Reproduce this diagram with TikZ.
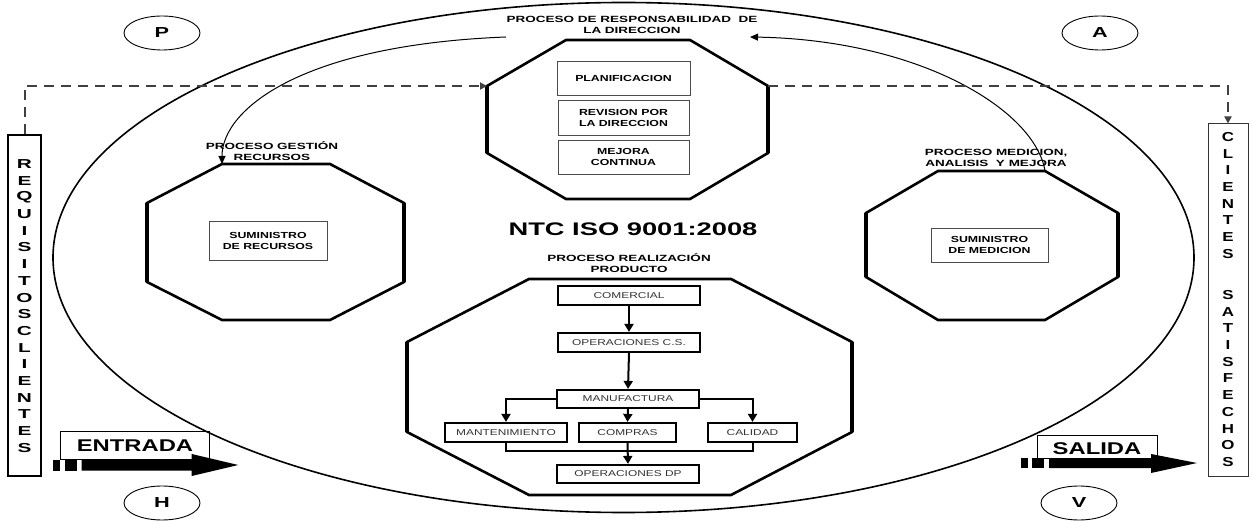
\documentclass[tikz,border=0pt]{standalone}
\usepackage{fontspec}
\setmainfont{Liberation Sans}
\newfontfamily\wideA{Liberation Sans}[FakeStretch=1.5]
\newfontfamily\wideB{Liberation Sans}[FakeStretch=1.4]
\newfontfamily\wideC{Liberation Sans}[FakeStretch=1.3]
\newfontfamily\wideD{Liberation Sans}[FakeStretch=1.6]
\usetikzlibrary{arrows.meta,shapes.geometric}

\tikzset{
  title/.style={font=\wideA\bfseries\fontsize{9}{11}\selectfont, align=center, inner sep=0pt},
  inbox/.style={draw=black!70, line width=0.8pt, font=\wideB\bfseries\fontsize{8.8}{11}\selectfont,
                align=center, inner sep=0pt},
  flow/.style={draw, line width=2.2pt, font=\wideB\fontsize{8.5}{10}\selectfont, text=black!80,
               inner sep=0pt, minimum height=19pt},
  octo/.style={line width=2.6pt, line join=miter},
  octoside/.style={line width=4.6pt},
  conn/.style={line width=2pt, -{Triangle[length=8pt,width=9pt]}},
  dashlink/.style={dash pattern=on 10pt off 7pt, line width=2pt, draw=black!75,
                   -{Triangle[length=7pt,width=7pt]}},
  loopline/.style={line width=1pt, -{Triangle[length=8pt,width=7pt]}},
  phase/.style={draw, ellipse, line width=0.9pt, minimum width=76pt, minimum height=34pt,
                inner sep=0pt, font=\wideA\bfseries\fontsize{14.5}{15}\selectfont},
  vletterL/.style={font=\wideD\bfseries\fontsize{13}{14}\selectfont, inner sep=0pt},
  vletterR/.style={font=\wideC\bfseries\fontsize{13}{14}\selectfont, inner sep=0pt},
  bigword/.style={font=\wideB\bfseries\fontsize{17}{18}\selectfont, inner sep=0pt},
}

\begin{document}
\begin{tikzpicture}[x=1pt, y=-1pt]
\useasboundingbox (0,0) rectangle (1254,521);

% outer process ellipse
\draw[line width=1.6pt] (623.5,257.5) ellipse [x radius=570.5, y radius=255];

% PHVA markers
\node[phase] (p) at (162,33) {P};
\node[phase] (a) at (1100,33) {A};
\node[phase] (h) at (162,503) {H};
\node[phase] (v) at (1079,503) {V};

% side boxes: customer requirements and satisfied customers
\node[draw, line width=1.5pt, minimum width=33pt, minimum height=341pt, inner sep=0pt] (req) at (24.5,305.5) {};
\foreach \l [count=\i from 0] in {R,E,Q,U,I,S,I,T,O,S,C,L,I,E,N,T,E,S}
  \node[vletterL] (reql\i) at (24.5,164+\i*16.7) {\l};

\node[draw=black!80, line width=1pt, minimum width=40pt, minimum height=352pt, inner sep=0pt] (cli) at (1228,300) {};
\foreach \l [count=\i from 0] in {C,L,I,E,N,T,E,S}
  \node[vletterR] (clia\i) at (1228,137+\i*16.7) {\l};
\foreach \l [count=\i from 0] in {S,A,T,I,S,F,E,C,H,O,S}
  \node[vletterR] (clib\i) at (1228,295+\i*16.7) {\l};

% management responsibility octagon
\coordinate (dA) at (566,40);  \coordinate (dB) at (690,40);
\coordinate (dR) at (768,86);  \coordinate (dRb) at (768,153);
\coordinate (dC) at (690,199); \coordinate (dD) at (566,199);
\coordinate (dLb) at (487,153); \coordinate (dL) at (487,86);
\draw[octo] (dA) -- (dB) -- (dR) -- (dRb) -- (dC) -- (dD) -- (dLb) -- (dL) -- cycle;
\draw[octoside] (dR) -- (dRb) (dL) -- (dLb);
\node[title] (tdir) at (632,25) {PROCESO DE RESPONSABILIDAD \ DE\\LA DIRECCION};
\node[inbox, minimum width=133pt, minimum height=34pt] (plan) at (623.5,78) {PLANIFICACION};
\node[inbox, minimum width=131pt, minimum height=35pt] (rev) at (623.5,117.5) {REVISION POR\\LA DIRECCION};
\node[inbox, minimum width=131pt, minimum height=34pt] (mej) at (623.5,157) {MEJORA\\CONTINUA};

% resource management octagon
\coordinate (rTL) at (222,164); \coordinate (rTR) at (330,164);
\coordinate (rR1) at (404,203); \coordinate (rR2) at (404,282);
\coordinate (rBR) at (330,320); \coordinate (rBL) at (222,320);
\coordinate (rL2) at (147,282); \coordinate (rL1) at (147,203);
\draw[octo] (rTL) -- (rTR) -- (rR1) -- (rR2) -- (rBR) -- (rBL) -- (rL2) -- (rL1) -- cycle;
\draw[octoside] (rR1) -- (rR2) (rL1) -- (rL2);
\node[title] (trec) at (272,151.5) {PROCESO GESTIÓN\\RECURSOS};
\node[inbox, minimum width=118pt, minimum height=39pt] (srec) at (268,240.5) {SUMINISTRO\\DE RECURSOS};

% measurement octagon
\coordinate (mTL) at (938,171); \coordinate (mTR) at (1045,171);
\coordinate (mR1) at (1118,213); \coordinate (mR2) at (1118,277);
\coordinate (mBR) at (1045,320); \coordinate (mBL) at (938,320);
\coordinate (mL2) at (866,277); \coordinate (mL1) at (866,213);
\draw[octo] (mTL) -- (mTR) -- (mR1) -- (mR2) -- (mBR) -- (mBL) -- (mL2) -- (mL1) -- cycle;
\draw[octoside] (mR1) -- (mR2) (mL1) -- (mL2);
\node[title] (tmed) at (996,157.5) {PROCESO MEDICION,\\ANALISIS \ Y MEJORA};
\node[inbox, minimum width=117pt, minimum height=34pt] (smed) at (989.5,245) {SUMINISTRO\\DE MEDICION};

% central standard label
\node[font=\wideA\bfseries\fontsize{18.2}{20}\selectfont, inner sep=0pt] (ntc) at (633,229) {NTC ISO 9001:2008};

% product realization octagon
\coordinate (pTL) at (529,279); \coordinate (pTR) at (731,279);
\coordinate (pR1) at (852,342); \coordinate (pR2) at (852,432);
\coordinate (pBR) at (731,495); \coordinate (pBL) at (529,495);
\coordinate (pL2) at (407,432); \coordinate (pL1) at (407,342);
\draw[octo] (pTL) -- (pTR) -- (pR1) -- (pR2) -- (pBR) -- (pBL) -- (pL2) -- (pL1) -- cycle;
\draw[octoside] (pR1) -- (pR2) (pL1) -- (pL2);
\node[title] (tpro) at (629,263.5) {PROCESO REALIZACIÓN\\PRODUCTO};

\node[flow, minimum width=142pt] (com)  at (629,295.5) {COMERCIAL};
\node[flow, minimum width=142pt] (ocs)  at (629,342.5) {OPERACIONES C.S.};
\node[flow, minimum width=142pt, minimum height=18pt] (man) at (628,399) {MANUFACTURA};
\node[flow, minimum width=122pt] (mant) at (506,432.5) {MANTENIMIENTO};
\node[flow, minimum width=97pt]  (comp) at (627.5,432.5) {COMPRAS};
\node[flow, minimum width=89pt]  (cal)  at (752.5,432.5) {CALIDAD};
\node[flow, minimum width=142pt, minimum height=18pt] (opdp) at (628,474) {OPERACIONES DP};
\coordinate (jn) at (628,451);

\draw[conn] (com.south) -- (ocs.north);
\draw[conn] (ocs.south) -- (man.north);
\draw[conn] (man.west) -| (mant.north);
\draw[conn] (man.east) -| (cal.north);
\draw[conn] (man.south) -- (comp.north);
\draw[line width=2pt] (mant.south) |- (jn) -| (cal.south);
\draw[conn] (comp.south) -- (opdp.north);

% feedback arcs of the cycle
\coordinate (aL) at (506,37);
\coordinate (aR) at (750,37);
\draw[loopline] (aL) .. controls (300,45) and (222,110) .. (rTL);
\draw[loopline] (mTR) .. controls (1035,110) and (920,40) .. (aR);

% dashed flow from requirements to satisfied customers
\draw[dashlink] (req.north) |- (dL);
\draw[dashlink] (dR) -| (cli.north);

% input arrow
\node[draw, line width=1pt, minimum width=149pt, minimum height=27pt, inner sep=0pt] (inbx) at (134.5,445.5) {};
\node[bigword] (entrada) at (135,446) {ENTRADA};
\fill (52.7,459.5) rectangle (60,470.5);
\fill (65,459.5) rectangle (77.3,470.5);
\fill (81.7,459.5) -- (191.7,459.5) -- (191.7,454) -- (238.3,465) -- (191.7,476) -- (191.7,470.5) -- (81.7,470.5) -- cycle;

% output arrow
\node[draw, line width=1pt, minimum width=120pt, minimum height=22pt, inner sep=0pt] (outbx) at (1097,447) {};
\node[bigword] (salida) at (1097,449) {SALIDA};
\fill (1021,458) rectangle (1028,468);
\fill (1032,458) rectangle (1044,468);
\fill (1049,458) -- (1151,458) -- (1151,454) -- (1197,463) -- (1151,473) -- (1151,468) -- (1049,468) -- cycle;
\end{tikzpicture}
\end{document}
